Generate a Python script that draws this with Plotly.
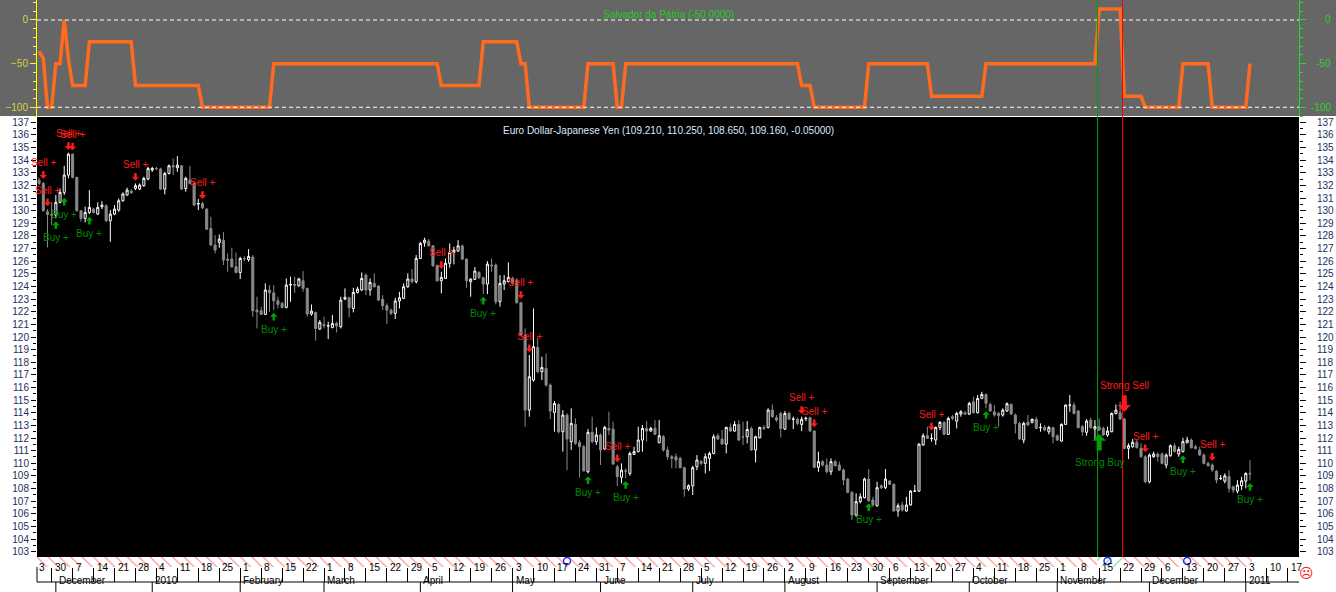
import math
import pandas as pd
import plotly.graph_objects as go

# ---------------- data ----------------
dates = pd.bdate_range("2009-11-25", "2011-01-04")  # daily bars (290)

opens = [
132.42,132.16,129.92,129.71,129.65,130.66,131.45,132.82,134.48,132.64,
130.00,129.39,129.86,130.13,129.73,130.31,130.39,129.20,129.73,130.05,
130.79,131.24,131.55,131.76,131.71,131.98,132.50,133.22,133.35,133.30,
131.71,132.95,133.56,133.40,133.56,131.76,132.42,132.16,130.52,130.57,
130.13,128.60,127.28,127.49,127.67,126.17,126.17,125.56,125.11,126.22,
126.12,126.33,122.13,122.08,121.79,123.72,123.50,122.87,122.66,122.34,
124.11,124.16,124.06,124.45,123.85,121.82,121.95,120.63,121.00,120.87,
120.76,121.08,120.81,123.00,123.11,122.26,123.53,123.72,124.90,123.72,
124.24,124.03,122.98,122.48,122.13,121.87,122.85,123.06,123.98,124.59,
124.38,126.22,127.46,127.59,127.22,125.64,124.45,124.64,125.83,126.70,
126.80,127.20,126.17,124.38,124.56,125.11,124.69,124.19,125.70,125.70,
122.79,124.19,124.38,124.64,124.51,122.71,120.15,114.21,116.59,119.18,
117.25,117.51,116.19,114.03,114.66,112.50,113.82,111.71,113.08,111.66,
111.31,109.33,112.45,111.71,112.24,111.13,112.76,112.71,109.73,108.89,
109.41,109.20,110.71,110.92,111.84,112.76,112.55,112.76,111.63,112.10,
111.05,110.52,110.52,110.39,109.65,107.96,108.22,109.73,110.13,109.99,
110.39,110.78,112.18,111.92,111.52,112.84,112.55,113.08,112.10,112.10,
112.76,111.05,112.02,112.84,112.84,114.21,113.61,113.95,112.71,113.95,
113.48,113.48,113.08,113.53,113.61,112.55,109.68,110.13,109.86,109.33,
110.13,109.86,109.46,108.75,107.70,105.90,106.96,107.28,108.75,107.09,
106.64,108.22,108.07,108.59,108.33,106.22,106.70,106.22,106.70,107.78,
107.80,111.45,112.18,111.95,111.84,112.84,113.24,112.29,113.69,113.34,
113.90,114.00,113.90,114.87,114.00,115.14,115.45,114.66,114.08,113.95,
113.82,114.14,114.66,113.82,113.16,111.84,113.24,113.24,113.48,112.82,
112.84,112.50,112.82,112.18,111.76,113.08,114.59,114.61,114.14,112.90,
112.45,113.42,112.71,112.90,112.76,112.24,112.50,113.95,114.00,113.50,
111.18,111.31,111.66,111.18,110.52,108.54,110.52,110.73,110.73,109.86,
110.60,111.39,110.73,110.92,111.63,111.84,111.31,111.05,110.65,109.99,
109.86,109.38,108.78,108.59,108.94,108.14,107.80,108.22,108.59,109.21]

highs = [
132.61,132.29,130.13,130.66,131.24,131.76,133.56,134.59,134.54,132.69,
130.05,130.31,131.63,130.23,130.66,130.76,130.50,130.05,130.44,130.97,
131.45,131.82,131.71,132.16,132.16,132.69,133.48,133.48,133.48,133.40,
133.08,133.66,134.14,134.32,133.61,132.69,133.56,132.29,130.92,130.71,
130.18,129.52,128.07,128.12,128.33,126.62,127.07,126.70,126.35,126.40,
126.96,126.49,123.19,122.40,124.24,124.11,124.11,123.19,122.79,124.64,
124.77,124.77,124.69,125.22,123.90,122.58,122.00,121.34,121.60,121.21,
121.74,121.21,123.19,123.85,123.19,123.90,123.98,125.11,125.04,124.64,
125.04,124.11,123.32,122.66,122.26,123.11,123.58,124.24,125.04,125.38,
126.49,127.54,127.86,127.75,127.28,125.75,125.17,126.22,127.41,127.15,
127.67,127.33,126.22,124.64,125.54,125.22,124.77,126.01,126.22,125.83,
124.90,124.90,125.91,124.77,124.64,122.79,120.68,118.57,122.26,119.94,
118.44,118.70,116.33,114.93,114.74,114.21,113.95,114.35,113.56,111.84,
111.45,112.71,113.69,112.84,112.37,112.97,114.08,113.29,109.86,109.99,
109.60,110.92,111.31,112.90,113.03,113.34,112.90,113.42,113.42,112.24,
111.31,110.65,110.78,110.52,109.73,108.33,109.81,110.65,110.26,110.78,
110.92,112.29,112.37,112.63,112.90,113.16,113.34,113.42,113.29,113.34,
112.90,112.18,112.90,113.03,114.35,114.66,113.82,114.08,114.14,114.08,
113.69,113.61,113.69,113.69,113.69,112.63,110.92,110.26,110.39,110.39,
110.26,110.13,109.60,108.86,107.80,107.62,107.62,108.86,109.54,107.35,
108.54,108.33,109.54,108.67,108.41,106.83,106.96,107.35,107.88,108.28,
111.58,112.37,112.90,112.37,112.90,113.34,113.34,113.69,113.82,114.08,
114.21,114.14,114.87,115.27,115.40,115.66,115.53,114.82,114.61,114.08,
114.35,114.82,114.74,113.95,113.29,113.29,113.82,113.55,113.69,113.16,
113.03,112.97,112.90,112.29,113.16,114.66,115.40,114.82,114.21,113.03,
113.50,113.61,113.42,113.55,112.90,112.90,114.03,114.66,114.87,113.61,
111.58,111.92,111.84,111.58,110.65,110.78,110.92,110.86,110.86,110.78,
111.50,111.58,111.31,112.02,112.10,111.97,111.45,111.31,110.78,110.13,
109.99,109.46,109.07,109.20,109.46,108.22,108.67,108.94,109.28,110.25]

lows = [
132.03,129.92,127.09,128.86,129.39,130.58,131.24,132.56,132.56,129.92,
129.13,129.07,129.73,129.79,129.65,130.13,129.10,127.54,129.65,129.92,
130.71,131.18,131.34,131.63,131.63,131.90,132.42,133.08,133.22,131.63,
131.29,132.87,132.82,133.08,131.63,131.50,132.08,130.39,130.05,130.13,
128.47,127.22,126.62,127.07,125.70,125.17,125.48,125.04,124.59,126.00,
125.96,121.60,120.68,121.74,121.74,122.00,122.13,122.26,122.26,122.26,
122.79,123.50,123.98,123.58,121.60,121.68,119.70,120.55,120.68,119.84,
120.68,120.36,120.68,122.92,121.55,121.95,123.45,123.64,123.32,123.27,
123.90,122.84,122.13,121.02,121.74,121.42,122.26,123.00,123.90,124.24,
124.24,126.17,127.15,127.15,125.56,124.38,123.45,124.59,125.48,125.75,
126.75,126.09,123.90,123.19,124.51,124.59,123.40,123.40,125.17,122.58,
122.40,123.72,124.32,124.16,122.66,120.10,112.90,113.69,116.46,117.12,
116.59,116.06,113.50,112.50,112.37,110.92,109.46,111.05,111.45,108.86,
109.33,109.20,111.58,111.45,109.86,111.05,112.24,109.86,108.20,108.41,
108.81,109.01,110.66,110.86,110.92,111.71,112.50,112.24,111.58,110.92,
110.26,109.60,109.60,109.60,107.35,107.80,107.49,109.46,109.86,109.20,
109.38,110.71,111.84,111.45,110.78,112.50,112.50,111.76,111.45,111.58,
110.97,110.07,111.97,112.63,112.76,113.61,113.29,112.03,112.63,113.42,
112.71,113.03,112.55,113.34,112.50,109.60,109.33,109.73,109.20,109.07,
109.73,109.38,108.28,107.62,105.51,105.77,106.83,107.22,107.05,106.56,
106.56,107.96,107.96,108.28,106.17,105.77,106.17,106.17,106.64,107.75,
107.75,111.39,111.92,111.71,111.45,112.63,112.24,112.24,113.42,112.76,
113.69,113.82,113.82,113.95,113.95,115.08,114.35,114.08,113.69,112.90,
113.69,114.08,113.82,112.37,111.84,111.58,112.97,113.16,112.71,112.50,
112.55,112.29,111.58,111.76,111.71,113.03,114.08,113.87,112.76,112.18,
112.18,112.76,111.84,112.55,112.18,112.10,112.45,113.87,113.42,111.10,
110.34,111.23,111.18,110.44,108.41,108.41,110.44,110.13,109.91,109.60,
110.52,110.86,110.52,110.86,111.58,111.18,111.10,110.60,109.91,109.73,
109.33,108.41,108.67,108.41,107.70,107.62,107.62,107.88,108.01,108.65]

closes = [
132.16,130.00,129.71,129.65,130.66,131.45,132.82,134.48,132.64,130.00,
129.39,129.86,130.26,129.86,130.26,130.44,129.20,129.73,130.13,130.79,
131.32,131.63,131.42,131.98,132.03,132.56,133.35,133.35,133.33,131.71,
132.95,133.56,133.48,133.61,131.71,132.56,132.16,130.44,130.57,130.23,
128.54,127.28,126.88,127.75,126.09,126.09,125.56,125.11,126.22,126.20,
126.38,122.08,122.00,121.79,123.72,123.50,122.87,122.58,122.34,124.11,
124.16,124.09,124.59,123.85,121.82,122.05,120.68,121.16,120.89,120.89,
121.08,120.89,122.92,123.14,122.32,123.53,123.79,124.64,123.72,124.32,
123.98,122.92,122.48,122.13,121.87,122.85,123.11,123.98,124.59,124.38,
126.22,127.41,127.67,127.22,125.64,124.45,124.72,125.83,126.70,126.88,
127.22,126.17,124.45,124.59,125.22,124.69,124.19,125.77,125.64,122.79,
124.24,124.45,124.72,124.24,122.71,120.15,114.21,116.85,119.23,117.25,
117.59,116.19,114.14,114.74,112.50,113.82,111.92,113.16,111.58,111.31,
109.41,112.45,111.71,112.24,111.05,112.84,112.63,109.94,108.94,109.46,
109.38,110.78,110.92,111.84,112.76,112.55,112.76,112.29,112.18,111.05,
110.52,110.39,110.26,109.65,107.96,108.22,109.65,110.26,109.99,110.52,
110.78,112.10,111.92,111.52,112.84,112.55,113.08,111.84,112.08,112.68,
111.05,112.10,112.84,112.76,114.21,113.69,113.42,112.76,113.95,113.50,
113.50,113.16,113.48,113.56,112.55,109.68,110.13,109.86,109.33,110.13,
109.81,109.46,108.67,107.70,105.90,106.96,107.35,108.75,107.01,106.70,
108.07,108.07,108.75,108.33,106.22,106.64,106.30,106.70,107.80,107.80,
111.52,112.18,111.97,111.97,112.84,113.24,112.29,113.55,113.55,113.95,
114.08,113.90,114.74,114.00,115.14,115.45,114.74,114.14,113.82,113.77,
114.21,114.72,113.90,113.16,111.92,113.16,113.03,113.48,112.76,112.84,
112.63,112.84,112.10,111.84,113.08,114.61,114.61,113.95,112.82,112.50,
113.34,112.82,112.90,112.63,112.24,112.55,113.95,114.21,113.50,111.18,
111.39,111.66,111.23,110.52,108.54,110.65,110.73,110.52,109.99,110.65,
111.39,110.92,111.10,111.71,111.84,111.23,111.18,110.65,109.99,109.81,
109.46,108.67,108.81,109.01,108.01,107.88,108.28,108.62,109.20,109.16]

# "Salvador da Patria" oscillator, read as (value, number of bars)
osc_runs = [(-36, 1), (-44, 1), (-100, 2), (-50, 2), (0, 1), (-45, 1), (-75, 4),
            (-25, 11), (-75, 16), (-100, 17), (-50, 40), (-75, 10), (-25, 9),
            (-50, 2), (-100, 14), (-50, 7), (-100, 2), (-50, 42), (-75, 3),
            (-100, 13), (-50, 15), (-87.5, 13), (-50, 27), (12.5, 6),
            (-87.5, 5), (-100, 9), (-50, 7), (-100, 9), (-50, 1)]

signal_bars = [1, 2, 4, 6, 7, 8, 12, 23, 39, 56, 96, 106, 115, 117, 131, 138,
               140, 182, 185, 198, 213, 226, 253, 259, 264, 273, 280, 289]
signal_kind = ["S", "S", "B", "B", "S", "S", "B", "S", "S", "B", "S", "B", "S",
               "S", "B", "S", "B", "S", "S", "B", "S", "B", "SB", "SS", "S", "B",
               "S", "B"]
event_bars = [126, 255, 274]
last_ohlc = "(109.210, 110.250, 108.650, 109.160, -0.05000)"

# ---------------- build ----------------
n = len(dates)
idx = list(range(n))
osc = [v for v, c in osc_runs for _ in range(c)]

RED = "#ff1a1a"
GREEN_T = "#008a00"
GREEN_A = "#00a000"
FONT = "Liberation Sans, Arial, sans-serif"

H_TOP = 0.7954
D_MAIN = [10 / 567, 450 / 567]
D_STRIP = [0, 10 / 567]
X_RANGE = [-0.5, 300.7]
PX_PER = 1262 / (X_RANGE[1] - X_RANGE[0])


def py(px):  # paper y from pixel row (plot area is rows 0..567)
    return (567 - px) / 567


def crisp_x(v):  # snap a data x to the centre of a screen pixel (1px lines)
    p = 37 + (v - X_RANGE[0]) * PX_PER
    p = math.floor(p) + 0.5
    return (p - 37) / PX_PER + X_RANGE[0]


fig = go.Figure()

fig.add_trace(go.Scatter(x=idx, y=osc, xaxis="x", yaxis="y", mode="lines",
                         line=dict(color="#ff6a1e", width=3.5), hoverinfo="skip"))
fig.add_trace(go.Scatter(x=[0], y=[0], xaxis="x", yaxis="y2", mode="markers",
                         marker=dict(opacity=0), hoverinfo="skip"))
fig.add_trace(go.Candlestick(
    x=idx, open=opens, high=highs, low=lows, close=closes, xaxis="x", yaxis="y3",
    increasing=dict(line=dict(color="#ffffff", width=1), fillcolor="#000000"),
    decreasing=dict(line=dict(color="#8a8a8a", width=1), fillcolor="#8a8a8a"),
    whiskerwidth=0))
fig.add_trace(go.Scatter(x=[0], y=[120], xaxis="x", yaxis="y4", mode="markers",
                         marker=dict(opacity=0), hoverinfo="skip"))

strip_fg = ["#00a000" if v > 0 else "#ff0000" for v in osc]
strip_shape = ["/" if v > 0 else "\\" for v in osc]
fig.add_trace(go.Bar(
    x=idx, y=[1] * n, xaxis="x", yaxis="y5", width=1,
    marker=dict(color="white", line=dict(width=0),
                pattern=dict(shape=strip_shape, fgcolor=strip_fg, bgcolor="white",
                             size=8, solidity=0.14)),
    hoverinfo="skip"))
fig.add_trace(go.Scatter(
    x=event_bars, y=[0.6] * len(event_bars), xaxis="x", yaxis="y5", mode="markers",
    marker=dict(symbol="circle-open", size=7, color="#2233ff", line=dict(width=1.5)),
    hoverinfo="skip", cliponaxis=False))

# axis positions
axis_days = pd.bdate_range("2009-11-25", "2011-01-21")
mondays = [(i, d.day) for i, d in enumerate(axis_days) if d.weekday() == 0]
month_starts = []
prev = None
for i, d in enumerate(axis_days):
    if i > n - 1 + 5:
        break
    key = (d.year, d.month)
    if key != prev and i > 0:
        label = str(d.year) if d.month == 1 else d.strftime("%B")
        month_starts.append((i, label))
    prev = key

fig.update_layout(
    width=1336, height=592, margin=dict(l=37, r=37, t=0, b=25),
    paper_bgcolor="white", plot_bgcolor="rgba(0,0,0,0)", showlegend=False,
    font=dict(family=FONT, size=10), bargap=0,
    xaxis=dict(domain=[0, 1], anchor="y5", range=X_RANGE,
               rangeslider=dict(visible=False), showgrid=False, zeroline=False,
               tickmode="array", tickvals=[m[0] for m in mondays], ticks="outside",
               ticklen=14, tickcolor="black", tickwidth=1, showticklabels=False),
    yaxis=dict(domain=[H_TOP, 1], range=[-110, 22.9], anchor="x", side="left",
               tickmode="array", tickvals=[-100, -50, 0], ticks="outside", ticklen=6,
               tickcolor="#ffff00", showline=True, linecolor="#ffff00",
               tickfont=dict(color="#d2d23c", size=10), showgrid=False, zeroline=False,
               minor=dict(ticks="outside", ticklen=3, tickcolor="#ffff00",
                          tickmode="linear", tick0=0, dtick=10)),
    yaxis2=dict(domain=[H_TOP, 1], range=[-110, 22.9], anchor="x", side="right",
                overlaying="y", tickmode="array", tickvals=[-100, -50, 0],
                ticks="outside", ticklen=6, tickcolor="#22dd22", showline=True,
                linecolor="#22dd22", showticklabels=False, showgrid=False,
                zeroline=False,
                minor=dict(ticks="outside", ticklen=3, tickcolor="#22dd22",
                           tickmode="linear", tick0=0, dtick=10)),
    yaxis3=dict(domain=D_MAIN, range=[102.58, 137.42], anchor="x", side="left",
                tickmode="linear", tick0=103, dtick=1, ticks="outside", ticklen=5,
                tickcolor="black", tickfont=dict(color="#1c2d5e", size=10),
                showgrid=False, zeroline=False,
                minor=dict(ticks="outside", ticklen=3, tickcolor="black",
                           tickmode="linear", tick0=103, dtick=0.5)),
    yaxis4=dict(domain=D_MAIN, range=[102.58, 137.42], anchor="x", side="right",
                overlaying="y3", tickmode="linear", tick0=103, dtick=1,
                ticks="outside", ticklen=6, tickcolor="black",
                tickfont=dict(color="#1c2d5e", size=10), ticklabelstandoff=9,
                showgrid=False, zeroline=False,
                minor=dict(ticks="outside", ticklen=3, tickcolor="black",
                           tickmode="linear", tick0=103, dtick=0.5)),
    yaxis5=dict(domain=D_STRIP, range=[0, 1], anchor="x", visible=False),
)

shapes = [
    dict(type="rect", xref="paper", yref="paper", x0=-0.05, x1=1.05, y0=H_TOP, y1=1.0,
         fillcolor="#666666", line=dict(width=0), layer="below"),
    dict(type="rect", xref="paper", yref="paper", x0=0, x1=1, y0=D_MAIN[0], y1=D_MAIN[1],
         fillcolor="#000000", line=dict(width=0), layer="below"),
]
for lvl in (0, -100):
    shapes.append(dict(type="line", xref="paper", yref="y", x0=0, x1=1, y0=lvl, y1=lvl,
                       line=dict(color="white", width=1, dash="4px,3px")))
for b, k in zip(signal_bars, signal_kind):
    if k in ("SB", "SS"):
        xl = crisp_x(b - 0.4)
        shapes.append(dict(type="line", xref="x", yref="paper", x0=xl, x1=xl,
                           y0=D_MAIN[0], y1=1,
                           line=dict(color="#00a000" if k == "SB" else "#ff0000", width=1)))
# date rows
shapes.append(dict(type="line", xref="paper", yref="paper", x0=0, x1=1,
                   y0=py(582), y1=py(582), line=dict(color="black", width=1)))
shapes.append(dict(type="line", xref="paper", yref="paper", x0=0, x1=0,
                   y0=py(567), y1=py(582), line=dict(color="black", width=1)))
for i, lab in month_starts:
    shapes.append(dict(type="line", xref="x", yref="paper", x0=i, x1=i,
                       y0=py(582), y1=py(592), line=dict(color="black", width=1)))
fig.update_layout(shapes=shapes)

ann = []
ann.append(dict(text="Salvador da Pátria (-50.0000)", xref="paper", yref="paper",
                x=0.5, y=py(7), showarrow=False, font=dict(color="#22cc22", size=10)))
ann.append(dict(text="Euro Dollar-Japanese Yen " + last_ohlc, xref="paper", yref="paper",
                x=0.5, y=py(123), showarrow=False, font=dict(color="#dce9ff", size=10)))
for v in (0, -50, -100):
    ann.append(dict(text=str(v), xref="paper", yref="y", x=(1333 - 37) / 1262, y=v,
                    xanchor="right", showarrow=False, font=dict(color="#33cc33", size=10)))
for i, day in mondays:
    ann.append(dict(text=str(day), xref="x", yref="paper", x=i, y=py(575),
                    xanchor="left", xshift=1, showarrow=False,
                    font=dict(color="black", size=10)))
ann.append(dict(text="3", xref="paper", yref="paper", x=0, y=py(575),
                xanchor="left", xshift=0, showarrow=False, font=dict(color="black", size=10)))
for i, lab in month_starts:
    ann.append(dict(text=lab, xref="x", yref="paper", x=i, y=py(588),
                    xanchor="left", xshift=1, showarrow=False,
                    font=dict(color="black", size=10)))
ann.append(dict(text="☹", xref="paper", yref="paper", x=(1316 - 37) / 1262, y=py(583),
                showarrow=False, font=dict(color="#ff2020", size=14, family="DejaVu Sans")))

for b, k in zip(signal_bars, signal_kind):
    if k == "S":
        ann.append(dict(text="", x=b, y=highs[b], xref="x", yref="y3", showarrow=True,
                        ax=0, ay=-12, standoff=3, arrowhead=1, arrowsize=0.5,
                        arrowwidth=2.5, arrowcolor=RED))
        ann.append(dict(text="Sell +", x=b, y=highs[b], xref="x", yref="y3", yshift=19,
                        showarrow=False, font=dict(color=RED, size=10)))
    elif k == "B":
        ann.append(dict(text="", x=b, y=lows[b], xref="x", yref="y3", showarrow=True,
                        ax=0, ay=12, standoff=3, arrowhead=1, arrowsize=0.5,
                        arrowwidth=2.5, arrowcolor=GREEN_A))
        ann.append(dict(text="Buy +", x=b, y=lows[b], xref="x", yref="y3", yshift=-19,
                        showarrow=False, font=dict(color=GREEN_T, size=10)))
    elif k == "SS":
        ann.append(dict(text="", x=b, y=highs[b], xref="x", yref="y3", showarrow=True,
                        ax=0, ay=-24, standoff=6, arrowhead=1, arrowsize=0.45,
                        arrowwidth=5, arrowcolor=RED))
        ann.append(dict(text="Strong Sell", x=b, y=highs[b], xref="x", yref="y3",
                        yshift=32, showarrow=False, font=dict(color=RED, size=10)))
    else:
        ann.append(dict(text="", x=b, y=lows[b], xref="x", yref="y3", showarrow=True,
                        ax=0, ay=21, standoff=3, arrowhead=1, arrowsize=0.45,
                        arrowwidth=5, arrowcolor=GREEN_A))
        ann.append(dict(text="Strong Buy", x=b, y=lows[b], xref="x", yref="y3",
                        yshift=-31, showarrow=False, font=dict(color=GREEN_T, size=10)))
fig.update_layout(annotations=ann)

fig.write_html("out.html", config={"displayModeBar": False},
               post_script="document.body.style.margin='0';document.body.style.overflow='hidden';")
